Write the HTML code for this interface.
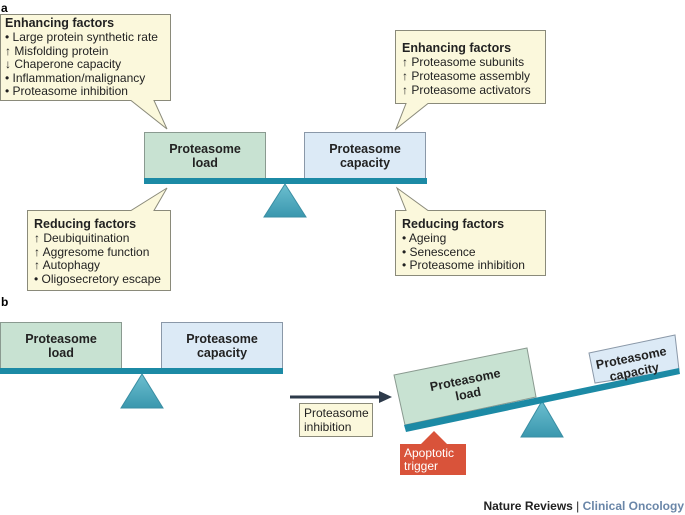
<!DOCTYPE html>
<html><head><meta charset="utf-8"><style>
body{margin:0;background:#fff}
svg{display:block;font-family:"Liberation Sans",sans-serif}
</style></head><body>
<svg width="685" height="515" viewBox="0 0 685 515">
<defs><linearGradient id="tg" x1="0" y1="0" x2="0" y2="1"><stop offset="0" stop-color="#6cbfd0"/><stop offset="1" stop-color="#3a97ae"/></linearGradient></defs>
<text x="1" y="12" font-size="12" font-weight="bold">a</text>
<path d="M0.5,14.5 H170.5 V100.5 H154 L167,129 L131,100.5 H0.5 Z" fill="#fbf8dc" stroke="#8a8a7a"/>
<g font-size="12" fill="#222">
<text x="5" y="27" font-weight="bold" font-size="12.5">Enhancing factors</text>
<text x="5" y="41">• Large protein synthetic rate</text>
<text x="5" y="55">↑ Misfolding protein</text>
<text x="5" y="68">↓ Chaperone capacity</text>
<text x="5" y="82">• Inflammation/malignancy</text>
<text x="5" y="95">• Proteasome inhibition</text>
</g>
<path d="M27.5,210.5 H131 L167,188 L154,210.5 H170.5 V290.5 H27.5 Z" fill="#fbf8dc" stroke="#8a8a7a"/>
<g font-size="12" fill="#222">
<text x="34" y="228" font-weight="bold" font-size="12.5">Reducing factors</text>
<text x="34" y="242">↑ Deubiquitination</text>
<text x="34" y="256">↑ Aggresome function</text>
<text x="34" y="269">↑ Autophagy</text>
<text x="34" y="283">• Oligosecretory escape</text>
</g>
<path d="M395.5,30.5 H545.5 V103.5 H428 L396,129 L406,103.5 H395.5 Z" fill="#fbf8dc" stroke="#8a8a7a"/>
<g font-size="12" fill="#222">
<text x="402" y="52" font-weight="bold" font-size="12.5">Enhancing factors</text>
<text x="402" y="66">↑ Proteasome subunits</text>
<text x="402" y="80">↑ Proteasome assembly</text>
<text x="402" y="94">↑ Proteasome activators</text>
</g>
<path d="M395.5,210.5 H406 L397,188 L428,210.5 H545.5 V275.5 H395.5 Z" fill="#fbf8dc" stroke="#8a8a7a"/>
<g font-size="12" fill="#222">
<text x="402" y="228" font-weight="bold" font-size="12.5">Reducing factors</text>
<text x="402" y="242">• Ageing</text>
<text x="402" y="256">• Senescence</text>
<text x="402" y="269">• Proteasome inhibition</text>
</g>
<rect x="144.5" y="132.5" width="121" height="46" fill="#c8e2d2" stroke="#8a9a90"/>
<rect x="304.5" y="132.5" width="121" height="46" fill="#dceaf6" stroke="#8a98a8"/>
<g font-size="12.5" font-weight="bold" fill="#222" text-anchor="middle">
<text x="205" y="153">Proteasome</text><text x="205" y="167">load</text>
<text x="365" y="153">Proteasome</text><text x="365" y="167">capacity</text>
</g>
<rect x="144" y="178" width="283" height="6" fill="#1c8aa5"/>
<polygon points="285,184 264,217 306,217" fill="url(#tg)" stroke="#3a8ea3"/>
<text x="1" y="306" font-size="12" font-weight="bold">b</text>
<rect x="0.5" y="322.5" width="121" height="46" fill="#c8e2d2" stroke="#8a9a90"/>
<rect x="161.5" y="322.5" width="121" height="46" fill="#dceaf6" stroke="#8a98a8"/>
<g font-size="12.5" font-weight="bold" fill="#222" text-anchor="middle">
<text x="61" y="343">Proteasome</text><text x="61" y="357">load</text>
<text x="222" y="343">Proteasome</text><text x="222" y="357">capacity</text>
</g>
<rect x="0" y="368" width="283" height="6" fill="#1c8aa5"/>
<polygon points="142,374 121,408 163,408" fill="url(#tg)" stroke="#3a8ea3"/>
<line x1="290" y1="397" x2="382" y2="397" stroke="#2d3a4a" stroke-width="3"/>
<polygon points="392,397 379,391 379,403" fill="#2d3a4a"/>
<rect x="299.5" y="403.5" width="73" height="33" fill="#fbf8dc" stroke="#8a8a7a"/>
<g font-size="12" fill="#222"><text x="304" y="417">Proteasome</text><text x="304" y="431">inhibition</text></g>
<polygon points="542,401 521,437 563,437" fill="url(#tg)" stroke="#3a8ea3"/>
<polygon points="394,375 527,348 536,397 405,425" fill="#c8e2d2" stroke="#8a9a90"/>
<polygon points="589,353 675,335 679,370 595,383" fill="#dceaf6" stroke="#8a98a8"/>
<polygon points="404,425 679,368 680,374 406,432" fill="#1c8aa5"/>
<g font-size="12.5" font-weight="bold" fill="#222" text-anchor="middle">
<text transform="translate(466,384) rotate(-11.5)">Proteasome</text>
<text transform="translate(469,398) rotate(-11.5)">load</text>
<text transform="translate(632,362) rotate(-11.5)">Proteasome</text>
<text transform="translate(635,376) rotate(-11.5)">capacity</text>
</g>
<polygon points="434,431 420,445 448,445" fill="#d9533a"/>
<rect x="400" y="444" width="66" height="31" fill="#d9533a"/>
<g font-size="12" fill="#fff"><text x="404" y="457">Apoptotic</text><text x="404" y="470">trigger</text></g>
<text x="684" y="510" font-size="12" text-anchor="end"><tspan font-weight="bold" fill="#222">Nature Reviews</tspan><tspan fill="#222"> | </tspan><tspan fill="#6a86a8" font-weight="bold">Clinical Oncology</tspan></text>
</svg>
</body></html>
